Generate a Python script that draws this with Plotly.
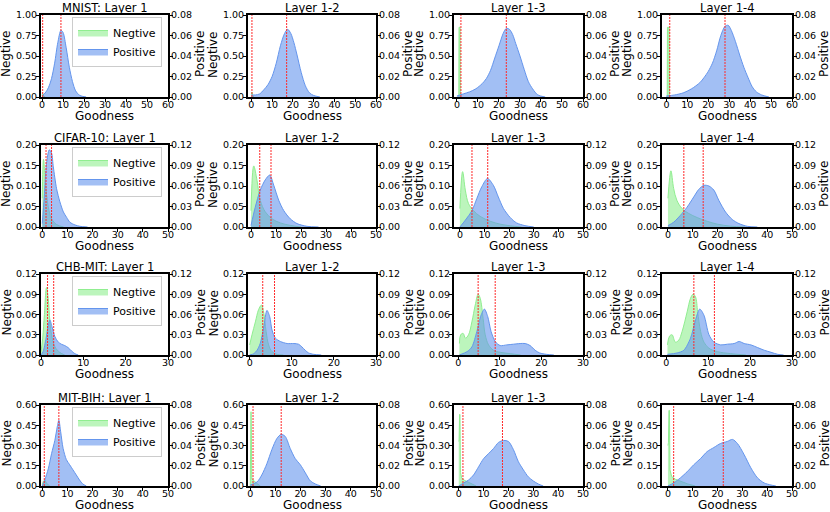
import plotly.graph_objects as go

# ---- data (density estimates per layer) ----
DATASETS = ["MNIST", "CIFAR-10", "CHB-MIT", "MIT-BIH"]
LAYERS = ["Layer 1", "Layer 1-2", "Layer 1-3", "Layer 1-4"]

MNIST_NEG_X = [
    [0, 0.3, 0.8, 1.5],
    [0, 0.3, 0.7, 1.2],
    [0.9, 1.0, 1.5, 1.6],
    [0.4, 0.5, 1.3, 1.4],
]
MNIST_NEG_Y = [
    [0.02, 0.04, 0.01, 0],
    [0.03, 0.06, 0.02, 0],
    [0, 0.85, 0.85, 0],
    [0, 0.85, 0.85, 0],
]
MNIST_POS_X = [
    [0, 1.5, 3, 4.5, 6, 7.5, 9, 10, 11.5, 13, 14.5, 16, 18, 21],
    [0, 2, 4, 6, 8, 10, 12, 14, 16, 17.5, 19, 20.5, 22, 24, 26, 28, 30, 33],
    [0, 3, 6, 9, 12, 14, 16, 18, 20, 22, 23.5, 25, 26.5, 28, 30, 32, 34, 36, 38.5, 42],
    [0, 4, 8, 12, 16, 18, 20, 22, 24, 26, 28, 29.5, 31, 33, 35, 37, 39, 41, 43, 45.5, 49],
]
MNIST_POS_Y = [
    [0.001, 0.004, 0.009, 0.018, 0.033, 0.053, 0.065, 0.063, 0.048, 0.029, 0.015, 0.006, 0.0015, 0],
    [0.002, 0.002, 0.003, 0.007, 0.012, 0.020, 0.033, 0.050, 0.062, 0.066, 0.062, 0.053, 0.041, 0.024,
     0.011, 0.004, 0.0015, 0],
    [0.001, 0.003, 0.005, 0.008, 0.013, 0.018, 0.026, 0.038, 0.050, 0.062, 0.067, 0.066, 0.061, 0.052,
     0.040, 0.027, 0.015, 0.008, 0.002, 0],
    [0.001, 0.002, 0.004, 0.008, 0.014, 0.019, 0.025, 0.033, 0.045, 0.060, 0.069, 0.070, 0.065, 0.054,
     0.041, 0.029, 0.019, 0.010, 0.005, 0.002, 0],
]
MNIST_NEG_MEAN = [0.3, 0.3, 1.9, 1.6]
MNIST_POS_MEAN = [9, 17, 23.5, 28]

CIFAR_NEG_X = [
    [0, 0.5, 1.3, 2.4, 3.7, 5.7, 8.5],
    [0, 1.1, 2.4, 3.7, 5.7, 8.4, 11.7, 15.7, 20],
    [0, 1.1, 2.2, 3.5, 5.5, 8.2, 12.3, 16.3, 20.4, 25],
    [0, 1.2, 2.3, 3.6, 5.7, 8.4, 11.8, 15.8, 19.9, 25.3, 31],
]
CIFAR_NEG_Y = [
    [0.07, 0.165, 0.106, 0.049, 0.02, 0.006, 0],
    [0.04, 0.149, 0.114, 0.065, 0.037, 0.02, 0.01, 0.004, 0],
    [0.045, 0.135, 0.09, 0.057, 0.04, 0.026, 0.014, 0.007, 0.003, 0],
    [0.07, 0.137, 0.094, 0.065, 0.045, 0.033, 0.023, 0.014, 0.007, 0.002, 0],
]
CIFAR_POS_X = [
    [0, 0.8, 1.7, 2.8, 3.7, 4.4, 5.7, 7, 8.4, 9.7, 11, 13, 15, 18],
    [0, 1.7, 3.7, 5.7, 7.5, 9.1, 11.1, 13.1, 15.7, 18.4, 22.4, 27],
    [0, 2.2, 4.9, 6.9, 8.9, 11.2, 13.6, 15.6, 17.7, 20.4, 23, 26.4, 30],
    [0, 2.3, 5, 7.7, 10.4, 12.4, 14.5, 16.5, 18.5, 20.5, 23.2, 25.9, 28.6, 32, 36],
]
CIFAR_POS_Y = [
    [0.005, 0.044, 0.093, 0.113, 0.108, 0.088, 0.056, 0.037, 0.022, 0.014, 0.007, 0.003, 0.001, 0],
    [0.002, 0.029, 0.054, 0.069, 0.076, 0.061, 0.039, 0.024, 0.012, 0.005, 0.001, 0],
    [0.0, 0.01, 0.024, 0.042, 0.059, 0.071, 0.061, 0.044, 0.027, 0.014, 0.006, 0.002, 0],
    [0.002, 0.007, 0.017, 0.029, 0.044, 0.055, 0.061, 0.060, 0.054, 0.039, 0.022, 0.011, 0.005, 0.001, 0],
]
CIFAR_NEG_MEAN = [1.5, 3.5, 4.9, 6.4]
CIFAR_POS_MEAN = [3.7, 8.0, 11.3, 14.2]

CHB_NEG_X = [
    [0, 0.4, 0.8, 1.3, 1.7, 2.1, 2.5, 3.3, 4.4, 5.6],
    [0, 0.55, 1.35, 2.1, 2.8, 3.3, 3.9, 4.5, 5.3, 6.5, 8],
    [0.3, 0.6, 1.2, 1.75, 2.5, 3.3, 4.1, 4.8, 5.3, 6, 6.5, 7.3, 8.5, 10.1, 12.5, 15],
    [0.3, 0.8, 1.4, 2.2, 3, 3.8, 5, 5.8, 6.4, 7, 7.5, 8.2, 9, 10.2, 12.2, 15.4, 19],
]
CHB_NEG_Y = [
    [0.005, 0.025, 0.06, 0.1, 0.084, 0.05, 0.03, 0.012, 0.004, 0],
    [0.015, 0.03, 0.049, 0.067, 0.074, 0.064, 0.035, 0.015, 0.005, 0.001, 0],
    [0.017, 0.03, 0.032, 0.025, 0.03, 0.049, 0.074, 0.09, 0.084, 0.054, 0.03, 0.015, 0.007, 0.004, 0.002, 0],
    [0.015, 0.028, 0.03, 0.019, 0.022, 0.035, 0.064, 0.084, 0.09, 0.086, 0.064, 0.035, 0.019, 0.01, 0.005,
     0.002, 0],
]
CHB_POS_X = [
    [0, 0.5, 1.2, 1.7, 2.1, 2.6, 3.3, 4.1, 4.8, 5.6, 6.4, 7.2, 8, 8.8],
    [0, 1, 1.75, 2.5, 3.3, 4.1, 4.75, 5.3, 6.1, 7.3, 8.9, 10.5, 11.6, 12.4, 13.2, 14, 15.2, 17],
    [0.3, 2.15, 3.3, 4.5, 5.5, 6.3, 7.1, 7.9, 8.9, 10.1, 11.7, 13.3, 14.9, 16.1, 17.3, 18.5, 19.6, 21.2, 23],
    [0.3, 2.6, 4.2, 5.8, 7, 8, 9, 10.2, 11.4, 13, 14.6, 16.2, 17.4, 18.6, 20.2, 21.8, 23.4, 25, 26.6, 28],
]
CHB_POS_Y = [
    [0, 0.005, 0.025, 0.044, 0.052, 0.042, 0.027, 0.019, 0.016, 0.014, 0.011, 0.006, 0.002, 0],
    [0, 0.002, 0.007, 0.017, 0.04, 0.066, 0.057, 0.037, 0.025, 0.02, 0.017, 0.017, 0.016, 0.012, 0.007,
     0.003, 0.001, 0],
    [0, 0.005, 0.012, 0.035, 0.059, 0.068, 0.057, 0.035, 0.02, 0.014, 0.015, 0.016, 0.017, 0.017, 0.014,
     0.007, 0.003, 0.001, 0],
    [0.001, 0.003, 0.007, 0.025, 0.052, 0.068, 0.059, 0.03, 0.019, 0.015, 0.016, 0.017, 0.02, 0.017, 0.015,
     0.011, 0.007, 0.004, 0.001, 0],
]
CHB_NEG_MEAN = [1.55, 3.1, 4.8, 6.6]
CHB_POS_MEAN = [3.0, 5.9, 8.9, 11.5]

MIT_NEG_X = [
    [0, 0.4, 1, 1.7, 3],
    [0, 0.1, 0.3, 0.45, 0.6, 1.5, 2.5, 4],
    [0, 0.15, 0.35, 0.5, 0.7, 1.2, 2, 3.5, 5, 7],
    [0, 0.2, 0.4, 0.6, 0.8, 1.5, 3, 5, 8, 11],
]
MIT_NEG_Y = [
    [0.01, 0.035, 0.045, 0.02, 0],
    [0, 0.55, 0.55, 0.38, 0.05, 0.04, 0.02, 0],
    [0.33, 0.34, 0.53, 0.53, 0.1, 0.06, 0.045, 0.03, 0.015, 0],
    [0.3, 0.32, 0.56, 0.56, 0.12, 0.07, 0.05, 0.035, 0.015, 0],
]
MIT_POS_X = [
    [0, 1, 2.4, 3.7, 5, 6, 6.6, 7.3, 8.3, 9.6, 10.9, 12.2, 13.5, 14.8, 16.1, 17.5],
    [0, 2.7, 4.6, 6.6, 8.6, 10.6, 12.3, 13.9, 15.9, 17.9, 19.9, 21.9, 23.9, 25.9, 28],
    [0, 2, 4, 6, 8, 10, 12, 14, 16, 18, 20, 22, 24, 26, 28, 30, 32, 34],
    [0, 2.3, 5, 7.7, 10.4, 13.1, 15.8, 18.5, 21.2, 23.9, 26, 28, 30.7, 33.4, 36.1, 38.8, 41.5, 43.5],
]
MIT_POS_Y = [
    [0, 0.006, 0.017, 0.032, 0.045, 0.059, 0.065, 0.054, 0.037, 0.026, 0.021, 0.016, 0.011, 0.006, 0.002, 0],
    [0.001, 0.004, 0.011, 0.022, 0.036, 0.047, 0.051, 0.049, 0.037, 0.027, 0.021, 0.013, 0.005, 0.002, 0],
    [0, 0.003, 0.006, 0.011, 0.019, 0.027, 0.032, 0.037, 0.043, 0.045, 0.044, 0.036, 0.024, 0.016, 0.009,
     0.005, 0.002, 0],
    [0, 0.003, 0.008, 0.014, 0.021, 0.027, 0.034, 0.038, 0.042, 0.044, 0.046, 0.042, 0.031, 0.018, 0.008,
     0.003, 0.001, 0],
]
MIT_NEG_MEAN = [0.8, 1.1, 1.7, 2.3]
MIT_POS_MEAN = [6.6, 12.3, 17.6, 22.3]

NEG_X = [MNIST_NEG_X, CIFAR_NEG_X, CHB_NEG_X, MIT_NEG_X]
NEG_Y = [MNIST_NEG_Y, CIFAR_NEG_Y, CHB_NEG_Y, MIT_NEG_Y]
POS_X = [MNIST_POS_X, CIFAR_POS_X, CHB_POS_X, MIT_POS_X]
POS_Y = [MNIST_POS_Y, CIFAR_POS_Y, CHB_POS_Y, MIT_POS_Y]
NEG_MEAN = [MNIST_NEG_MEAN, CIFAR_NEG_MEAN, CHB_NEG_MEAN, MIT_NEG_MEAN]
POS_MEAN = [MNIST_POS_MEAN, CIFAR_POS_MEAN, CHB_POS_MEAN, MIT_POS_MEAN]

# axis limits
X_MAX = [60, 50, 30, 50]
X_MIN = [[-0.5, -1.6, -1.4, -2.1], [-0.5, -1.2, -2.4, -2.4], [0.0, -0.4, -1.0, -1.0], [-0.5, -0.9, -1.9, -2.4]]
NEG_YMAX = [1.0, 0.20, 0.12, 0.60]
POS_YMAX = [0.08, 0.12, 0.12, 0.08]
NEG_SHAPE = ["linear", "spline", "spline", "linear"]

# ---- layout geometry (pixels) ----
W, H = 830, 512
COL_L = [41, 248, 454, 662]
COL_R = [168, 376, 583, 792]
ROW_T = [15, 145, 274, 405]
ROW_B = [97, 227, 355, 486]

GREEN_LINE = "#90ee90"
GREEN_FILL = "rgba(144,238,144,0.6)"
BLUE_LINE = "#6495ed"
BLUE_FILL = "rgba(100,149,237,0.6)"
RED = "#ff2a2a"

TICK = dict(size=9.5)


def px_x(v):
    return v / W


def px_y(v):
    return 1 - v / H


fig = go.Figure()
layout = {}
shapes = []
annotations = []


def label(text, x, y, size, angle=0):
    annotations.append(dict(text=text, x=px_x(x), y=px_y(y), xref="paper", yref="paper",
                            xanchor="center", yanchor="middle", showarrow=False,
                            textangle=angle, font=dict(size=size)))


for r in range(4):
    for c in range(4):
        k = r * 4 + c
        xid = "x" if k == 0 else f"x{k + 1}"
        yid = "y" if k == 0 else f"y{2 * k + 1}"
        y2id = f"y{2 * k + 2}"
        leg = "legend" if r == 0 else f"legend{r + 1}"

        fig.add_trace(go.Scatter(
            x=NEG_X[r][c], y=NEG_Y[r][c], xaxis=xid, yaxis=yid, mode="lines",
            fill="tozeroy", fillcolor=GREEN_FILL,
            line=dict(color=GREEN_LINE, width=1, shape=NEG_SHAPE[r]),
            name="Negtive", showlegend=(c == 0), legend=leg))
        fig.add_trace(go.Scatter(
            x=POS_X[r][c], y=POS_Y[r][c], xaxis=xid, yaxis=y2id, mode="lines",
            fill="tozeroy", fillcolor=BLUE_FILL,
            line=dict(color=BLUE_LINE, width=1, shape="spline", smoothing=0.8),
            name="Positive", showlegend=(c == 0), legend=leg))

        xdom = [px_x(COL_L[c]), px_x(COL_R[c])]
        ydom = [px_y(ROW_B[r]), px_y(ROW_T[r])]
        common = dict(showline=True, linewidth=2, linecolor="black", ticks="outside", ticklen=3,
                      tickwidth=1, tickcolor="black", showgrid=False, zeroline=False, tickfont=TICK)

        layout["xaxis" if k == 0 else f"xaxis{k + 1}"] = dict(
            domain=xdom, anchor=yid, range=[X_MIN[r][c], X_MAX[r]], tick0=0, dtick=10,
            mirror=True, ticklabelstandoff=-5, **common)
        layout["yaxis" if k == 0 else f"yaxis{2 * k + 1}"] = dict(
            domain=ydom, anchor=xid, range=[0, NEG_YMAX[r]], tick0=0, dtick=NEG_YMAX[r] / 4,
            tickformat=".2f", ticklabelstandoff=-3, **common)
        layout[f"yaxis{2 * k + 2}"] = dict(
            domain=ydom, anchor=xid, overlaying=yid, side="right", range=[0, POS_YMAX[r]], tick0=0,
            dtick=POS_YMAX[r] / 4, tickformat=".2f", ticklabelstandoff=-4, **common)

        for v in (NEG_MEAN[r][c], POS_MEAN[r][c]):
            shapes.append(dict(type="line", xref=xid, yref=f"{yid} domain", x0=v, x1=v, y0=0, y1=1,
                               line=dict(color=RED, width=1, dash="2px,1px")))

        mid_x = (COL_L[c] + COL_R[c]) / 2
        mid_y = (ROW_T[r] + ROW_B[r]) / 2
        title = f"{DATASETS[r]}: {LAYERS[c]}" if c == 0 else LAYERS[c]
        label(title, mid_x, ROW_T[r] - 7.5, 11.5)
        label("Goodness", mid_x, ROW_B[r] + 18.5, 12)
        label("Negtive", COL_L[c] - 35, mid_y - 2, 12, -90)
        label("Positive", COL_R[c] + 32, mid_y - 2, 12, -90)

    layout["legend" if r == 0 else f"legend{r + 1}"] = dict(
        x=px_x(162), y=px_y(ROW_T[r] + 2), xanchor="right", yanchor="top",
        bgcolor="rgba(255,255,255,0.8)", bordercolor="#cccccc", borderwidth=1,
        font=dict(size=11), itemwidth=30, tracegroupgap=0)

fig.update_layout(**layout)
fig.update_layout(
    template="none", width=W, height=H, margin=dict(l=0, r=0, t=0, b=0),
    paper_bgcolor="white", plot_bgcolor="white",
    font=dict(family="DejaVu Sans", color="black"),
    shapes=shapes, annotations=annotations,
)
fig.write_html("out.html", config={"displayModeBar": False},
               post_script="document.body.style.margin = '0';")
